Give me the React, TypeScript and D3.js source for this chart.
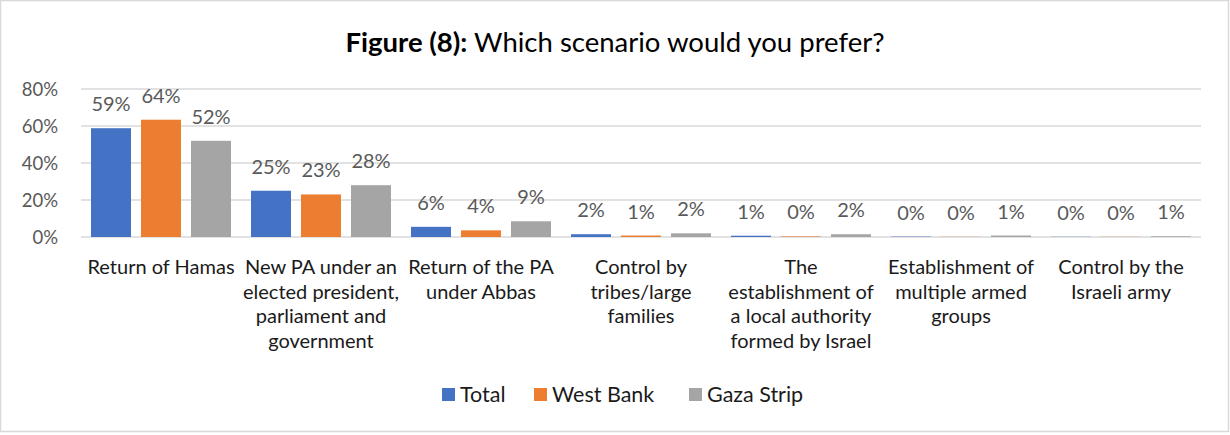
import React from "react";
import * as d3 from "d3";

const categories = [
  "Return of Hamas",
  "New PA under an|elected president,|parliament and|government",
  "Return of the PA|under Abbas",
  "Control by|tribes/large|families",
  "The|establishment of|a local authority|formed by Israel",
  "Establishment of|multiple armed|groups",
  "Control by the|Israeli army",
];
const seriesNames = ["Total", "West Bank", "Gaza Strip"];
const totalValues = [58.8, 25, 5.5, 1.5, 0.7, 0.2, 0.1];
const westBankValues = [63.4, 23, 3.6, 0.8, 0.3, 0.1, 0.1];
const gazaValues = [52, 28, 8.5, 2, 1.5, 0.8, 0.4];
const totalLabels = ["59%", "25%", "6%", "2%", "1%", "0%", "0%"];
const westBankLabels = ["64%", "23%", "4%", "1%", "0%", "0%", "0%"];
const gazaLabels = ["52%", "28%", "9%", "2%", "2%", "1%", "1%"];
const yTicks = [0, 20, 40, 60, 80];
const colors = ["#4472C4", "#ED7D31", "#A5A5A5"];

const FONT = "Lato, 'Noto Sans', sans-serif";

export default function App() {
  const W = 1230;
  const H = 435;
  const series = [totalValues, westBankValues, gazaValues];
  const labels = [totalLabels, westBankLabels, gazaLabels];

  const x = d3.scaleBand<string>().domain(categories).range([81, 1201]).paddingInner(0).paddingOuter(0);
  const inner = d3
    .scaleBand<string>()
    .domain(seriesNames)
    .range([0, x.bandwidth()])
    .paddingInner(0.2)
    .paddingOuter(0.2);
  const y = d3.scaleLinear().domain([0, 80]).range([237, 89]);

  const legendItems = [
    { name: seriesNames[0], x: 442 },
    { name: seriesNames[1], x: 534 },
    { name: seriesNames[2], x: 689 },
  ];

  return (
    <div style={{ position: "absolute", left: 0, top: 0 }}>
      <svg width={W} height={H} style={{ display: "block", fontFamily: FONT }}>
        <rect x={0} y={0} width={W} height={H} fill="#fff" />
        <rect x={0.5} y={0.5} width={1228} height={431} fill="none" stroke="#d9d9d9" strokeWidth={1.5} />
        <text x={615} y={52} textAnchor="middle" fontSize={27.5} fill="#000">
          <tspan fontWeight="bold">Figure (8):</tspan>
          <tspan> Which scenario would you prefer?</tspan>
        </text>
        {yTicks.map((t) => (
          <g key={t}>
            <line x1={81} x2={1201} y1={y(t)} y2={y(t)} stroke="#d9d9d9" strokeWidth={1.3} />
            <text x={58} y={y(t) + 6.5} textAnchor="end" fontSize={18.5} fill="#595959">
              {t}%
            </text>
          </g>
        ))}
        {categories.map((c, ci) => (
          <g key={c}>
            {series.map((vals, si) => {
              const bx = (x(c) as number) + (inner(seriesNames[si]) as number);
              const bw = inner.bandwidth();
              return (
                <g key={si}>
                  <rect x={bx} y={y(vals[ci])} width={bw} height={y(0) - y(vals[ci])} fill={colors[si]} />
                  <text
                    x={bx + bw / 2}
                    y={y(vals[ci]) - 17}
                    textAnchor="middle"
                    fontSize={20}
                    fill="#595959"
                  >
                    {labels[si][ci]}
                  </text>
                </g>
              );
            })}
            {c.split("|").map((line, li) => (
              <text
                key={li}
                x={(x(c) as number) + x.bandwidth() / 2}
                y={274 + li * 24.5}
                textAnchor="middle"
                fontSize={20}
                fill="#1a1a1a"
              >
                {line}
              </text>
            ))}
          </g>
        ))}
        {legendItems.map((l, i) => (
          <g key={l.name}>
            <rect x={l.x} y={388} width={13} height={13} fill={colors[i]} />
            <text x={l.x + 18} y={402} fontSize={21.5} fill="#1a1a1a">
              {l.name}
            </text>
          </g>
        ))}
      </svg>
    </div>
  );
}
